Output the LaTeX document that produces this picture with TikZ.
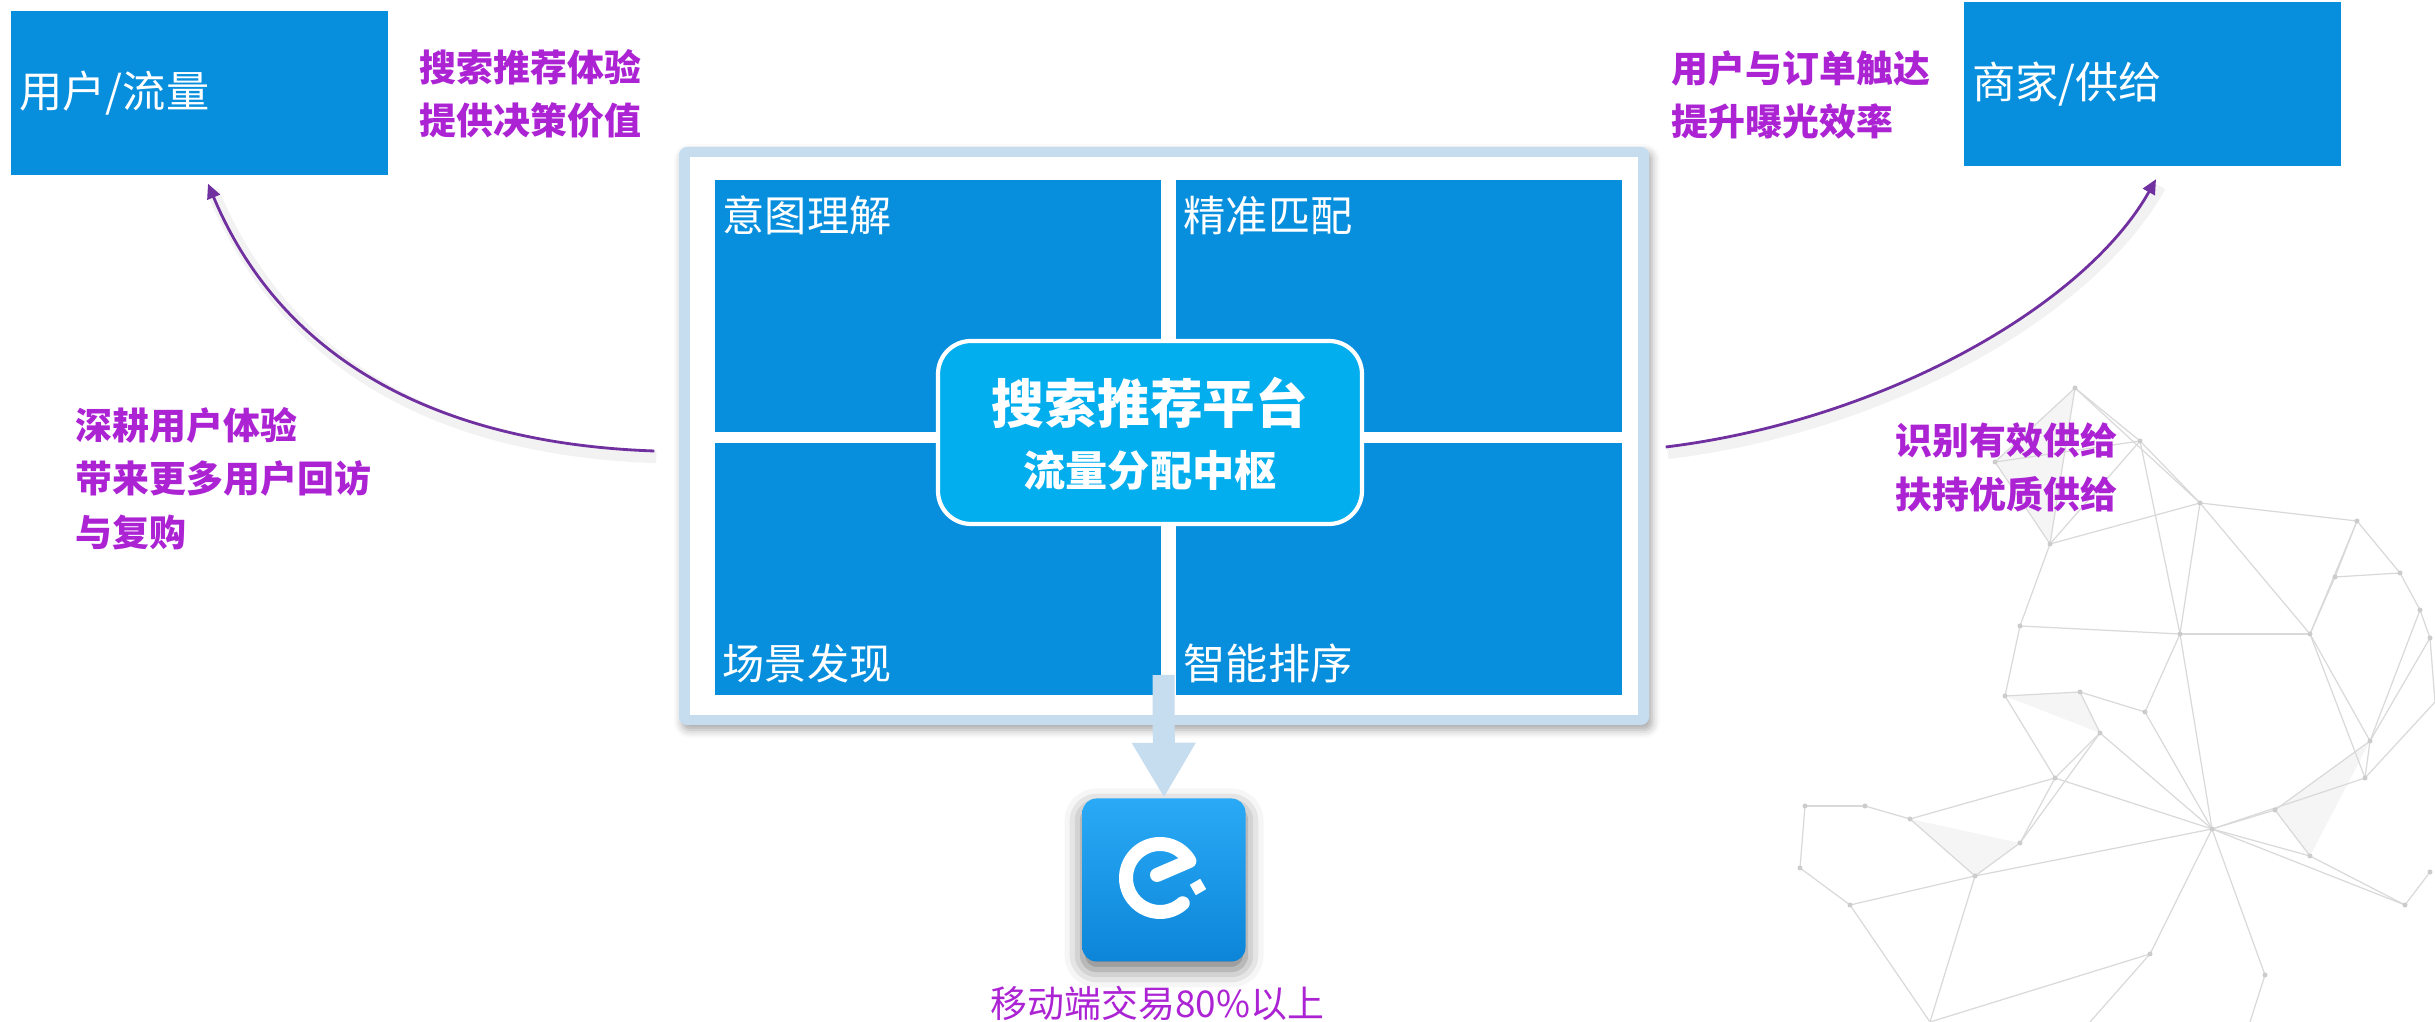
\documentclass[tikz,border=0pt]{standalone}
\usepackage{fontspec}
\newfontfamily\cjk{Noto Sans CJK SC}
\usepackage{tikz}
\usetikzlibrary{arrows.meta,shadows.blur}
\definecolor{tileblue}{RGB}{7,143,222}
\definecolor{hubcyan}{RGB}{2,174,238}
\definecolor{framegrey}{RGB}{198,220,239}
\definecolor{loopviolet}{RGB}{112,48,160}
\definecolor{notemagenta}{RGB}{172,35,212}
\definecolor{apptop}{RGB}{42,170,246}
\definecolor{appbot}{RGB}{12,133,216}

\begin{document}
\begin{tikzpicture}[
    side/.style={fill=tileblue, minimum width=3.77cm, minimum height=1.64cm,
      text width=3.6cm, align=left, inner xsep=0.08cm, text=white,
      font=\cjk\fontsize{12.3}{14}\selectfont},
    tile/.style={fill=tileblue, minimum width=4.46cm, minimum height=2.52cm,
      inner sep=0pt, anchor=south west},
    tilelabel/.style={text=white, inner sep=0pt, anchor=west,
      font=\cjk\fontsize{12}{14}\selectfont},
    note/.style={anchor=west, inner sep=0pt, align=left, text=notemagenta,
      font=\cjk\bfseries\fontsize{10.5}{15.2}\selectfont},
    feedback/.style={loopviolet, line width=0.8pt,
      -{Triangle[length=4.2pt,width=3.8pt]}},
    net/.style={draw=black!15, line width=0.35pt},
  ]
  \useasboundingbox (0,0) rectangle (24.35,10.22);

  % faint network figure, lower right
  \foreach \n/\x/\y in {1/20.75/6.34, 2/19.95/5.60, 3/21.40/5.81, 4/20.50/4.78,
      5/22.00/5.19, 6/23.57/5.01, 7/24.00/4.49, 8/24.20/4.12, 9/24.30/3.84,
      10/21.80/3.88, 11/20.20/3.96, 12/20.05/3.26, 13/20.80/3.30, 14/21.45/3.10,
      15/21.00/2.89, 16/20.55/2.44, 17/23.65/2.44, 18/22.12/1.93, 19/22.75/2.12,
      20/23.10/1.66, 21/23.70/2.81, 22/23.10/3.88, 23/23.35/4.45, 24/20.20/1.79,
      25/19.75/1.46, 26/19.10/2.03, 27/18.65/2.16, 28/18.05/2.16, 29/18.00/1.54,
      30/18.50/1.17, 31/24.05/1.17, 32/21.50/0.68, 33/22.65/0.47, 34/24.30/1.50,
      35/22.50/0.00, 36/19.30/0.00, 37/20.90/0.00, 38/24.35/3.20}
    \coordinate (n\n) at (\x,\y);
  \fill[black!4] (n12) -- (n13) -- (n15) -- cycle;
  \fill[black!4] (n24) -- (n25) -- (n26) -- cycle;
  \fill[black!4] (n19) -- (n20) -- (n21) -- cycle;
  \fill[black!4] (n2) -- (n4) -- (n1) -- cycle;
  \foreach \a/\b in {1/2, 1/3, 2/4, 3/4, 1/4, 2/3, 3/5, 4/5, 5/6, 5/22, 6/7,
      7/8, 8/9, 6/23, 23/22, 22/10, 5/10, 4/11, 11/12, 12/13, 13/14, 14/10,
      11/10, 10/18, 14/18, 15/18, 16/18, 13/15, 15/16, 16/24, 24/25, 25/26,
      26/27, 27/28, 28/29, 29/30, 30/25, 25/18, 18/17, 17/21, 21/9, 18/19,
      19/20, 20/18, 19/21, 18/31, 31/34, 18/32, 32/36, 32/37, 18/33, 33/35,
      25/36, 17/38, 22/17, 6/22, 12/16, 3/10, 24/15, 21/22, 20/31, 23/7,
      8/21, 9/38, 1/5, 30/36, 26/16}
    \draw[net] (n\a) -- (n\b);
  \foreach \n in {1,...,34}
    \fill[black!20] (n\n) circle (0.025);

  % the two sides
  \node[side] (user) at (1.995,9.29) {用户/流量};
  \node[side] (merchant) at (21.52,9.375) {商家/供给};

  \node[note] (valueL) at (4.19,9.28) {搜索推荐体验\\提供决策价值};
  \node[note] (valueR) at (16.71,9.27) {用户与订单触达\\提升曝光效率};
  \node[note] (gainL) at (0.75,5.435) {深耕用户体验\\带来更多用户回访\\与复购};
  \node[note] (gainR) at (18.95,5.545) {识别有效供给\\扶持优质供给};

  % platform frame and its four tiles
  \node[fill=framegrey, rounded corners=0.08cm, minimum width=9.70cm,
    minimum height=5.78cm,
    blur shadow={shadow xshift=0.03cm, shadow yshift=-0.05cm,
      shadow blur radius=0.08cm, shadow opacity=35}]
    (frame) at (11.64,5.86) {};
  \node[fill=white, minimum width=9.48cm, minimum height=5.58cm] (pane)
    at (frame.center) {};
  \node[tile] (intent) at (7.14,5.89) {};
  \node[tile] (match) at (11.75,5.89) {};
  \node[tile] (scene) at (7.14,3.26) {};
  \node[tile] (rank) at (11.75,3.26) {};
  \node[tilelabel] at ([shift={(0.08,-0.36)}]intent.north west) {意图理解};
  \node[tilelabel] at ([shift={(0.08,-0.36)}]match.north west) {精准匹配};
  \node[tilelabel] at ([shift={(0.08,0.33)}]scene.south west) {场景发现};
  \node[tilelabel] at ([shift={(0.08,0.33)}]rank.south west) {智能排序};

  \node[fill=hubcyan, draw=white, line width=1.2pt, rounded corners=0.33cm,
    minimum width=4.24cm, minimum height=1.83cm] (hub) at (11.50,5.895) {};
  \node[text=white, inner sep=0pt, font=\cjk\bfseries\fontsize{15}{17}\selectfont]
    (hubtitle) at (11.50,6.19) {搜索推荐平台};
  \node[text=white, inner sep=0pt, font=\cjk\bfseries\fontsize{12}{14}\selectfont]
    (hubsub) at (11.50,5.52) {流量分配中枢};

  % app icon with its flow arrow
  \node[minimum size=1.63cm, rounded corners=0.14cm, top color=apptop,
    bottom color=appbot,
    blur shadow={shadow xshift=0cm, shadow yshift=-0.08cm,
      shadow blur radius=0.18cm, shadow opacity=55}]
    (app) at (11.64,1.42) {};
  \coordinate (feed) at (11.635,3.47);
  \draw[framegrey, line width=0.22cm, -{Triangle[length=0.55cm,width=0.6cm]}]
    (feed) -- (app.north);
  \begin{scope}[shift={(app.center)}, shift={(-0.04,0.02)}]
    \draw[white, line width=0.14cm, line cap=round, line join=round]
      (-0.03,0.03) -- (30:0.34) arc[start angle=30, end angle=312, radius=0.34];
    \fill[white, rotate around={30:(0.38,-0.09)}]
      (0.32,-0.15) rectangle (0.44,-0.03);
  \end{scope}
  \node[inner sep=0pt, text=notemagenta, font=\cjk\fontsize{10.5}{12}\selectfont]
    (share) at (11.575,0.19) {移动端交易80\%以上};

  % feedback curves
  \draw[black, opacity=0.05, line width=3.5pt]
    ([shift={(-0.22,-0.21)}]frame.west) .. controls +(-2.05,0.07) and +(0.77,-1.84)
    .. ([shift={(0.13,-0.15)}]user.south);
  \draw[feedback] ([shift={(-0.24,-0.15)}]frame.west) .. controls +(-2.05,0.07)
    and +(0.77,-1.84) .. ([shift={(0.085,-0.08)}]user.south);
  \draw[black, opacity=0.05, line width=3.5pt]
    ([shift={(0.18,-0.17)}]frame.east) .. controls +(2.2,0.27) and +(-0.7,-1.25)
    .. ([shift={(0.08,-0.19)}]merchant.south);
  \draw[feedback] ([shift={(0.16,-0.11)}]frame.east) .. controls +(2.2,0.27)
    and +(-0.7,-1.25) .. ([shift={(0.04,-0.12)}]merchant.south);
\end{tikzpicture}
\end{document}
